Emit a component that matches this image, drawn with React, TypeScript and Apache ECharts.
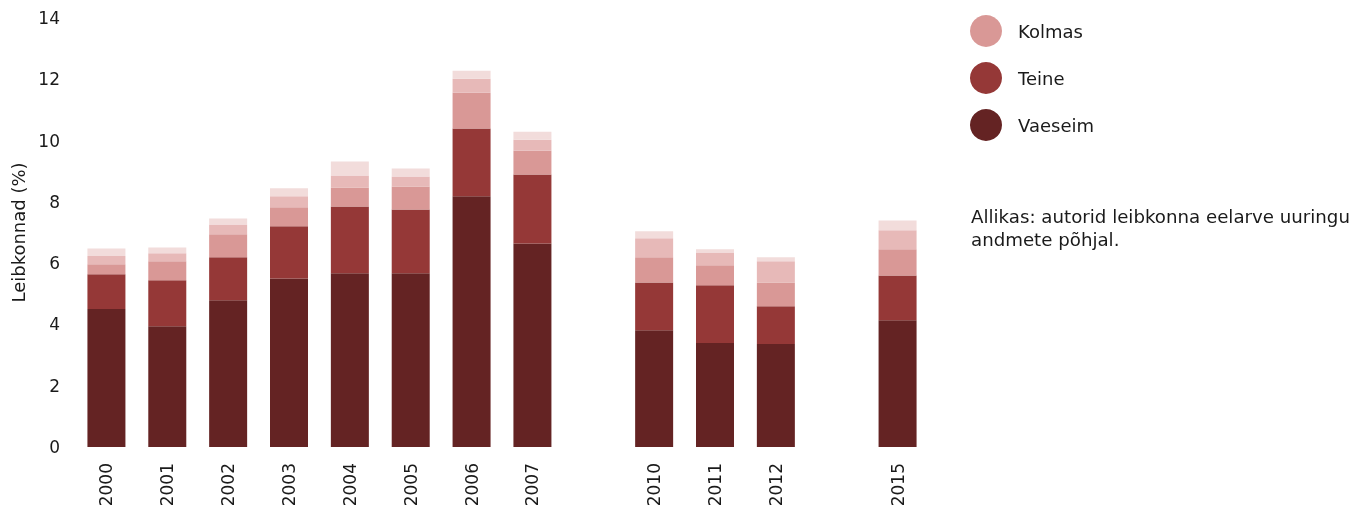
import React, { useEffect, useRef } from "react";
import * as echarts from "echarts";

const categories = ["2000", "2001", "2002", "2003", "2004", "2005", "2006", "2007", " ", "2010", "2011", "2012", "  ", "2015"];
const vaeseim = [4.50, 3.94, 4.79, 5.50, 5.67, 5.67, 8.18, 6.64, null, 3.81, 3.39, 3.36, null, 4.14];
const teine = [1.14, 1.50, 1.40, 1.70, 2.18, 2.08, 2.21, 2.25, null, 1.56, 1.89, 1.23, null, 1.46];
const kolmas = [0.32, 0.62, 0.75, 0.62, 0.62, 0.75, 1.17, 0.78, null, 0.82, 0.65, 0.78, null, 0.85];
const neljas = [0.27, 0.26, 0.32, 0.36, 0.39, 0.33, 0.46, 0.36, null, 0.62, 0.42, 0.69, null, 0.62];
const viies = [0.25, 0.19, 0.20, 0.26, 0.46, 0.26, 0.26, 0.26, null, 0.23, 0.10, 0.13, null, 0.32];
const yTicks = [0, 2, 4, 6, 8, 10, 12, 14];

const FONT = "DejaVu Sans";

export default function App() {
  const ref = useRef<HTMLDivElement>(null);
  useEffect(() => {
    const chart = echarts.init(ref.current!, null, { renderer: "svg" });
    const mk = (name: string, data: (number | null)[], color: string) => ({
      name,
      type: "bar",
      stack: "total",
      data,
      barWidth: 38,
      itemStyle: { color },
      emphasis: { disabled: true },
    });
    chart.setOption({
      animation: false,
      textStyle: { fontFamily: FONT },
      grid: { left: 76, top: 18, width: 852, height: 429 },
      legend: {
        data: ["Kolmas", "Teine", "Vaeseim"],
        orient: "vertical",
        left: 965,
        top: 10,
        icon: "circle",
        itemWidth: 32,
        itemHeight: 32,
        itemGap: 15,
        textStyle: { fontSize: 18, color: "#1a1a1a", fontFamily: FONT, padding: [0, 0, 0, 11] },
        selectedMode: false,
      },
      xAxis: {
        type: "category",
        data: categories,
        axisLine: { show: false },
        axisTick: { show: false },
        axisLabel: { rotate: 90, fontSize: 17, color: "#1a1a1a", margin: 16, fontFamily: FONT },
      },
      yAxis: {
        type: "value",
        min: yTicks[0],
        max: yTicks[yTicks.length - 1],
        interval: 2,
        name: "Leibkonnad (%)",
        nameLocation: "middle",
        nameGap: 49,
        nameRotate: 90,
        nameTextStyle: { fontSize: 18, color: "#1a1a1a", fontFamily: FONT },
        splitLine: { show: false },
        axisLine: { show: false },
        axisTick: { show: false },
        axisLabel: { fontSize: 17, color: "#1a1a1a", margin: 16, fontFamily: FONT },
      },
      graphic: [
        {
          type: "text",
          left: 971,
          top: 205,
          style: {
            text: "Allikas: autorid leibkonna eelarve uuringu\nandmete põhjal.",
            fontSize: 18.2,
            lineHeight: 23,
            fill: "#1a1a1a",
            fontFamily: FONT,
          },
        },
      ],
      series: [
        mk("Vaeseim", vaeseim, "#642323"),
        mk("Teine", teine, "#953837"),
        mk("Kolmas", kolmas, "#d99896"),
        mk("Neljas", neljas, "#e7b9b8"),
        mk("Jõukaim", viies, "#f2dcdb"),
      ],
    });
    return () => chart.dispose();
  }, []);
  return <div ref={ref} style={{ position: "fixed", left: 0, top: 0, width: 1365, height: 517 }} />;
}
